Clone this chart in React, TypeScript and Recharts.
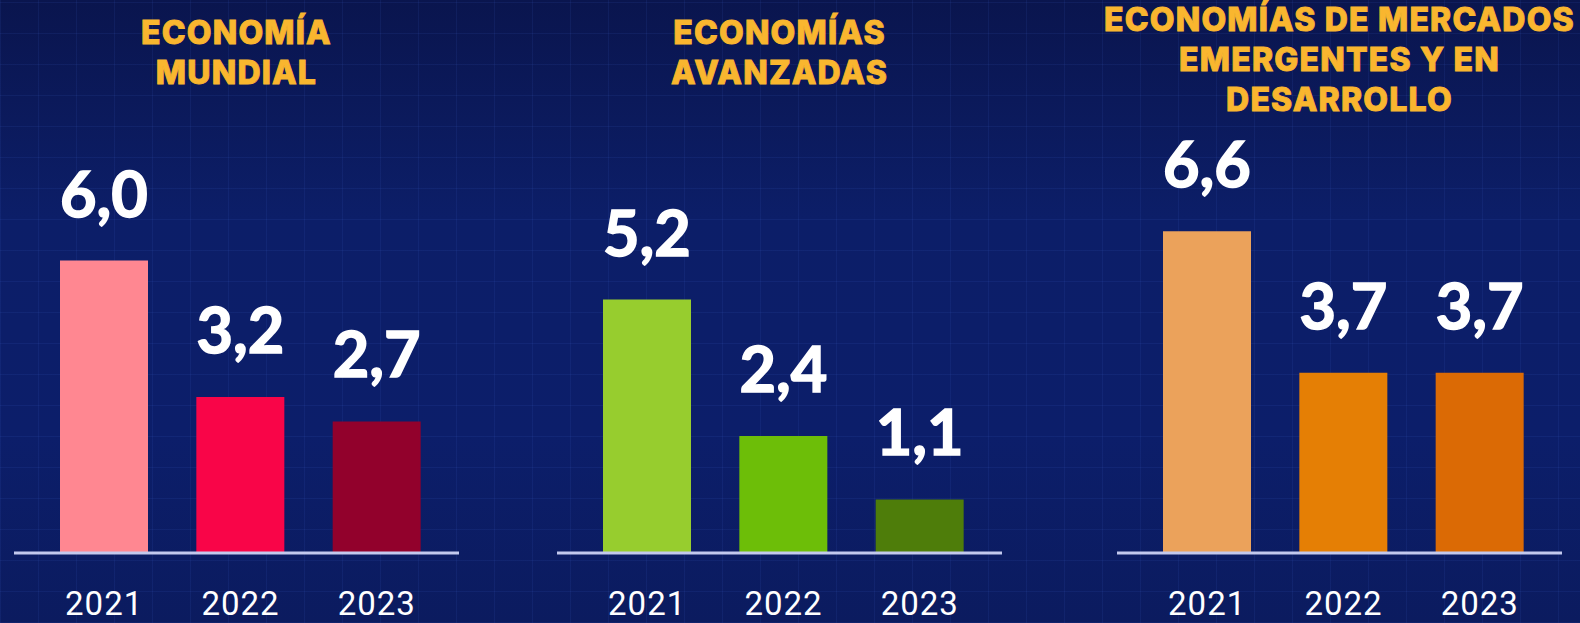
import React from 'react'
import { BarChart, Bar, XAxis, YAxis, Cell, LabelList } from 'recharts'

const years = ['2021', '2022', '2023']

const mundialValues = [6.0, 3.2, 2.7]
const avanzadasValues = [5.2, 2.4, 1.1]
const emergentesValues = [6.6, 3.7, 3.7]

const mundialColors = ['#ff8791', '#f90548', '#92012c']
const avanzadasColors = ['#97cd2e', '#6dbe08', '#4e7d0a']
const emergentesColors = ['#eba25b', '#e57f05', '#db6a05']

const mundialTitle = ['ECONOMÍA', 'MUNDIAL']
const avanzadasTitle = ['ECONOMÍAS', 'AVANZADAS']
const emergentesTitle = ['ECONOMÍAS DE MERCADOS', 'EMERGENTES Y EN', 'DESARROLLO']

const toRows = (values: number[]) => years.map((year, i) => ({ year, value: values[i] }))

const formatValue = (v: any) => Number(v).toFixed(1).replace('.', ',')

type PanelProps = {
  left: number
  values: number[]
  colors: string[]
  title: string[]
  titleTop: number
}

function Panel({ left, values, colors, title, titleTop }: PanelProps) {
  const width = 445
  return (
    <>
      <div
        style={{
          position: 'absolute',
          left: left - 60,
          top: titleTop,
          width: width + 120,
          textAlign: 'center',
          color: '#f9b62f',
          fontFamily: 'Inter, sans-serif',
          fontWeight: 800,
          fontSize: 32,
          lineHeight: '40px',
          letterSpacing: 1.2,
          WebkitTextStroke: '0.9px #f9b62f',
        }}
      >
        {title.map((line) => (
          <div key={line}>{line}</div>
        ))}
      </div>
      <div style={{ position: 'absolute', left, top: 0 }}>
        <BarChart
          width={width}
          height={623}
          data={toRows(values)}
          margin={{ top: 163, right: 0, bottom: 0, left: 0 }}
        >
          <YAxis hide domain={[0, 8]} />
          <XAxis
            dataKey="year"
            height={70}
            padding={{ left: 22, right: 14 }}
            axisLine={{ stroke: '#c3c9ee', strokeWidth: 3 }}
            tickLine={false}
            tickSize={0}
            tickMargin={39}
            tick={{ fill: '#ffffff', fontSize: 33, fontFamily: 'Roboto, sans-serif', letterSpacing: 1 }}
          />
          <Bar dataKey="value" barSize={88} isAnimationActive={false}>
            {values.map((v, i) => (
              <Cell key={i} fill={colors[i]} />
            ))}
            <LabelList
              dataKey="value"
              position="top"
              offset={44}
              formatter={formatValue}
              fill="#ffffff"
              stroke="#ffffff"
              strokeWidth={1.5}
              style={{ fontFamily: 'Lato, sans-serif', fontWeight: 700, fontSize: 63 }}
            />
          </Bar>
        </BarChart>
      </div>
    </>
  )
}

export default function App() {
  return (
    <div
      style={{
        position: 'absolute',
        left: 0,
        top: 0,
        width: 1580,
        height: 623,
        overflow: 'hidden',
        background:
          'repeating-linear-gradient(90deg, rgba(70,110,220,0.10) 0px, rgba(70,110,220,0.10) 1px, transparent 1px, transparent 38px), repeating-linear-gradient(0deg, rgba(70,110,220,0.10) 0px, rgba(70,110,220,0.10) 1px, transparent 1px, transparent 31px), linear-gradient(#0a154e 0%, #0c1e68 35%, #0c1e6a 70%, #0b1b5f 100%)',
      }}
    >
      <Panel left={14} values={mundialValues} colors={mundialColors} title={mundialTitle} titleTop={13} />
      <Panel left={557} values={avanzadasValues} colors={avanzadasColors} title={avanzadasTitle} titleTop={13} />
      <Panel left={1117} values={emergentesValues} colors={emergentesColors} title={emergentesTitle} titleTop={0} />
    </div>
  )
}
